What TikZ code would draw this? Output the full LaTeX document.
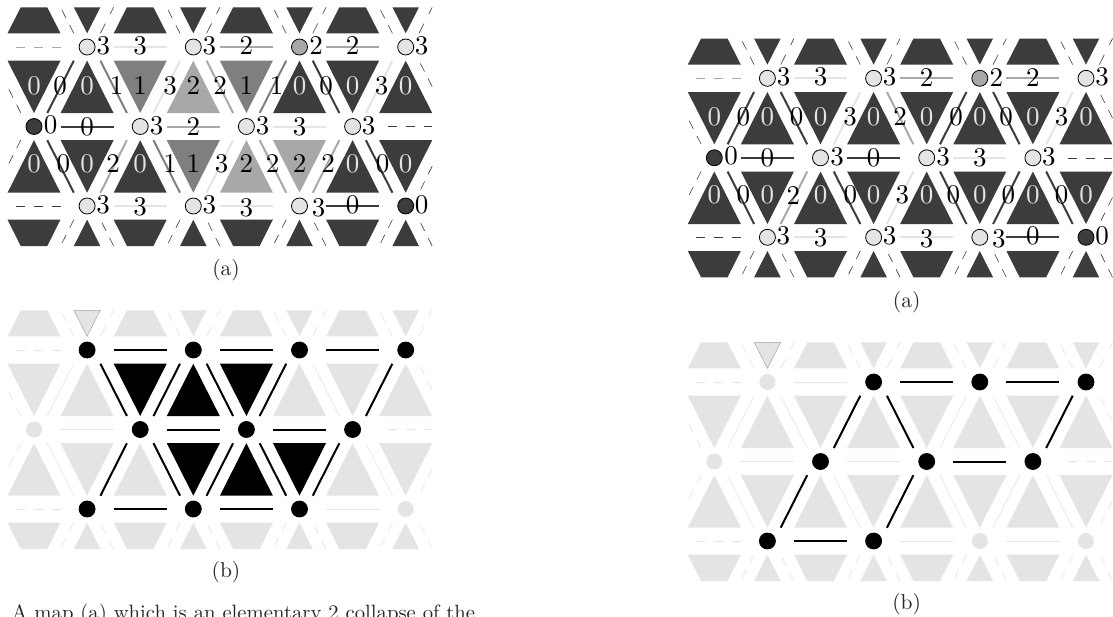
\documentclass[tikz,border=0pt]{standalone}
\definecolor{c0}{HTML}{3C3C3C}
\definecolor{c1}{HTML}{7F7F7F}
\definecolor{c2}{HTML}{A8A8A8}
\definecolor{c3}{HTML}{E4E4E4}
\definecolor{cL}{HTML}{E4E4E4}
\definecolor{cB}{HTML}{000000}
\tikzset{
  tri0/.style={fill=c0},tri1/.style={fill=c1},tri2/.style={fill=c2},tri3/.style={fill=c3},
  triL/.style={fill=cL},triB/.style={fill=cB},
  hilite/.style={fill=cL,draw=c2,line width=.5pt},
  edge0/.style={draw=c0,line width=2pt},edge1/.style={draw=c1,line width=2pt},
  edge2/.style={draw=c2,line width=2pt},edge3/.style={draw=c3,line width=2pt},
  edgeB/.style={draw=cB,line width=2pt},edgeL/.style={draw=cL,line width=.6pt},
  vtx/.style={circle,minimum size=16pt,inner sep=0pt,outer sep=0pt},
  vert0/.style={vtx,fill=c0,draw=black,line width=.8pt},
  vert2/.style={vtx,fill=c2,draw=black,line width=.8pt},
  vert3/.style={vtx,fill=c3,draw=black,line width=.8pt},
  vertB/.style={vtx,fill=black,draw=black,line width=.8pt},
  vertL/.style={vtx,fill=cL},
  lab/.style={inner sep=0pt,outer sep=0pt,font=\fontsize{10}{12}\selectfont,scale=2.7,text=black},
  lab0/.style={lab,text=c3},lab1/.style={lab},lab2/.style={lab},lab3/.style={lab},
  stub0/.style={draw=c0,line width=.6pt},stubL/.style={draw=cL,line width=.7pt},
  rowdash0/.style={draw=c0,line width=.6pt,dash pattern=on 9pt off 9pt},
  rowdash2/.style={draw=c2,line width=1pt,dash pattern=on 9pt off 9pt},
  rowdashL/.style={draw=cL,line width=1pt,dash pattern=on 9pt off 9pt},
  captext/.style={inner sep=0pt,outer sep=0pt,font=\fontsize{10}{12}\selectfont,scale=2.15,text=black!85},
  bodytext/.style={inner sep=0pt,outer sep=0pt,font=\fontsize{10}{12}\selectfont,scale=2.07,text=black!85},
}
\newif\iflabels
\newcommand\drawpanel[3]{%
 \begin{scope}[shift={(#2,#3)},name prefix=#1-]
  % clipped rows at top and bottom, with their dashed stubs
  \foreach \cc in {0,...,7}{
    \pgfmathsetmacro\X{34+53.1*\cc}
    \ifodd\cc
      \path[tri\Outer] (\X-13.25,7.3) -- (\X+13.25,7.3) -- (\X,33.3) -- cycle;
      \path[tri\Outer] (\X,219.7) -- (\X+13.25,246) -- (\X-13.25,246) -- cycle;
      \coordinate (ta\cc) at (\X+13.3,33.3);
      \coordinate (tb\cc) at (\X+26.5,7.3);
      \coordinate (ba\cc) at (\X+26.5,246);
      \coordinate (bb\cc) at (\X+13.3,219.7);
      \draw[stub\Outer,dash pattern=on 11pt off 11pt] (ta\cc) -- (tb\cc);
    \else
      \path[tri\Outer] (\X-13.25,7.3) -- (\X+13.25,7.3) -- (\X+26.5,33.3) -- (\X-26.5,33.3) -- cycle;
      \path[tri\Outer] (\X-26.5,219.7) -- (\X+26.5,219.7) -- (\X+13.25,246) -- (\X-13.25,246) -- cycle;
      \coordinate (ta\cc) at (\X+39.8,33.3);
      \coordinate (tb\cc) at (\X+26.5,7.3);
      \coordinate (ba\cc) at (\X+39.8,219.7);
      \coordinate (bb\cc) at (\X+26.5,246);
      \draw[stub\Outer,dash pattern=on 9pt off 8pt] (ta\cc) -- (tb\cc);
    \fi
    \draw[stub\Outer,dash pattern=on 9pt off 8pt] (ba\cc) -- (bb\cc);
  }
  % side stubs
  \coordinate (s1a) at (20.7,112.7); \coordinate (s1b) at (7.5,86.7);
  \coordinate (s2a) at (20.7,140.2); \coordinate (s2b) at (7.5,166.2);
  \coordinate (s3a) at (432.2,86.7); \coordinate (s3b) at (419,60.7);
  \coordinate (s4a) at (432.2,166.2); \coordinate (s4b) at (419,192.7);
  \foreach \n in {1,2,3,4}{\draw[stub\Outer,dash pattern=on 9pt off 8pt] (s\n a) -- (s\n b);}
  % row end dashes
  \coordinate (d1a) at (16,47); \coordinate (d1b) at (61,47);
  \coordinate (d2a) at (387.7,126.5); \coordinate (d2b) at (432,126.5);
  \coordinate (d3a) at (16,206); \coordinate (d3b) at (61,206);
  \draw[rowdash\RowTop] (d1a) -- (d1b);
  \draw[rowdash\RowRest] (d2a) -- (d2b);
  \draw[rowdash\RowRest] (d3a) -- (d3b);
  % band triangles
  \foreach \v [count=\cc from 0] in \TriOne{
    \pgfmathsetmacro\X{34+53.1*\cc}
    \ifodd\cc
      \path[tri\v] (\X,60.7) -- (\X+26.5,113) -- (\X-26.5,113) -- cycle;
    \else
      \path[tri\v] (\X-26.5,60.7) -- (\X+26.5,60.7) -- (\X,113) -- cycle;
    \fi
    \iflabels\node[lab\v] (tl1\cc) at (\X,85.7) {\v};\fi
  }
  \foreach \v [count=\cc from 0] in \TriTwo{
    \pgfmathsetmacro\X{34+53.1*\cc}
    \ifodd\cc
      \path[tri\v] (\X-26.5,140.2) -- (\X+26.5,140.2) -- (\X,192.7) -- cycle;
    \else
      \path[tri\v] (\X,140.2) -- (\X+26.5,192.7) -- (\X-26.5,192.7) -- cycle;
    \fi
    \iflabels\node[lab\v] (tl2\cc) at (\X,164) {\v};\fi
  }
  % diagonal connectors
  \foreach \k/\col/\lx in \DiagOne{
    \pgfmathsetmacro\X{34+53.1*\k}
    \ifodd\k
      \coordinate (e1a\k) at (\X+13.3,60.7); \coordinate (e1b\k) at (\X+39.8,113);
    \else
      \coordinate (e1a\k) at (\X+39.8,60.7); \coordinate (e1b\k) at (\X+13.3,113);
    \fi
    \draw[edge\col] (e1a\k) -- (e1b\k);
  }
  \foreach \k/\col/\lx in \DiagTwo{
    \pgfmathsetmacro\X{34+53.1*\k}
    \ifodd\k
      \coordinate (e2a\k) at (\X+39.8,140.2); \coordinate (e2b\k) at (\X+13.3,192.7);
    \else
      \coordinate (e2a\k) at (\X+13.3,140.2); \coordinate (e2b\k) at (\X+39.8,192.7);
    \fi
    \draw[edge\col] (e2a\k) -- (e2b\k);
  }
  % horizontal connectors
  \foreach \rw/\cc/\col/\ly in \Hdata{
    \pgfmathsetmacro\X{34+53.1*\cc}
    \pgfmathsetmacro\Y{47+79.5*(\rw-1)}
    \coordinate (ha\rw\cc) at (\X-26.5,\Y); \coordinate (hb\rw\cc) at (\X+26.5,\Y);
    \draw[edge\col] (ha\rw\cc) -- (hb\rw\cc);
  }
  % vertices
  \foreach \rw/\cc/\v/\lx/\ly in \Vdata{
    \pgfmathsetmacro\X{34+53.1*\cc}
    \pgfmathsetmacro\Y{47+79.5*(\rw-1)}
    \node[vert\v] (v\rw\cc) at (\X,\Y) {};
  }
  % labels on top
  \iflabels
    \foreach \k/\col/\lx in \DiagOne{\node[lab] (dl1\k) at (\lx,85.7) {\col};}
    \foreach \k/\col/\lx in \DiagTwo{\node[lab] (dl2\k) at (\lx,164) {\col};}
    \foreach \rw/\cc/\col/\ly in \Hdata{
      \pgfmathsetmacro\X{34+53.1*\cc}
      \pgfmathsetmacro\Y{47+79.5*(\rw-1)+\ly}
      \node[lab] (hl\rw\cc) at (\X,\Y) {\col};
    }
    \foreach \rw/\cc/\v/\lx/\ly in \Vdata{
      \pgfmathsetmacro\X{34+53.1*\cc+\lx}
      \pgfmathsetmacro\Y{47+79.5*(\rw-1)+\ly}
      \node[lab] (vl\rw\cc) at (\X,\Y) {\v};
    }
  \else
    \path[hilite] (87.1-13.25,7.3) -- (87.1+13.25,7.3) -- (87.1,33.3) -- cycle;
  \fi
 \end{scope}%
}
\begin{document}
\begin{tikzpicture}[x=1pt,y=-1pt]
\useasboundingbox (0,0) rectangle (1113,616);
\clip (0,0) rectangle (1113,616);
% ---------- left (a)
\labelstrue
\def\Outer{0}\def\RowTop{2}\def\RowRest{0}
\def\TriOne{0,0,1,2,1,0,0,0}
\def\TriTwo{0,0,0,1,2,2,0,0}
\def\DiagOne{0/0/60,1/1/116.7,2/3/170,3/2/220,4/1/276.7,5/0/326,6/3/381.7}
\def\DiagTwo{0/0/63.3,1/2/113,2/1/170,3/3/221.7,4/2/272.7,5/2/328,6/0/382.7}
\def\Hdata{1/2/3/-1,1/4/2/-1,1/6/2/-1,2/1/0/0,2/3/2/0,2/5/3/0,3/2/3/.5,3/4/3/2,3/6/0/-1}
\def\Vdata{1/1/3/16.2/-1,1/3/3/16/-1,1/5/2/16.5/-1,1/7/3/16/-1,2/0/0/16.7/-1.5,2/2/3/16.5/-.5,2/4/3/16.3/-.5,2/6/3/16/-.5,3/1/3/16/-1,3/3/3/16/-1,3/5/3/19/1.5,3/7/0/16/-1.5}
\drawpanel{LA}{0}{0}
% ---------- right (a)
\def\TriOne{0,0,0,0,0,0,0,0}
\def\TriTwo{0,0,0,0,0,0,0,0}
\def\DiagOne{0/0/63,1/0/116.4,2/3/169.7,3/2/219.7,4/0/275.7,5/0/325.7,6/3/381.4}
\def\DiagTwo{0/0/63,1/2/113,2/0/170,3/3/222,4/0/273,5/0/328,6/0/381.4}
\def\Hdata{1/2/3/-1,1/4/2/-1,1/6/2/-1,2/1/0/0,2/3/0/0,2/5/3/0,3/2/3/.5,3/4/3/2,3/6/0/-1}
\drawpanel{RA}{680.3}{31.3}
% ---------- left (b)
\labelsfalse
\def\Outer{L}\def\RowTop{L}\def\RowRest{L}
\def\TriOne{L,L,B,B,B,L,L,L}
\def\TriTwo{L,L,L,B,B,B,L,L}
\def\DiagOne{0/L/0,1/B/0,2/B/0,3/B/0,4/B/0,5/L/0,6/B/0}
\def\DiagTwo{0/L/0,1/B/0,2/B/0,3/B/0,4/B/0,5/B/0,6/L/0}
\def\Hdata{1/2/B/0,1/4/B/0,1/6/B/0,2/1/L/0,2/3/B/0,2/5/B/0,3/2/B/0,3/4/B/0,3/6/L/0}
\def\Vdata{1/1/B/0/0,1/3/B/0/0,1/5/B/0/0,1/7/B/0/0,2/0/L/0/0,2/2/B/0/0,2/4/B/0/0,2/6/B/0/0,3/1/B/0/0,3/3/B/0/0,3/5/B/0/0,3/7/L/0/0}
\drawpanel{LB}{0}{303}
% ---------- right (b)
\def\TriOne{L,L,L,L,L,L,L,L}
\def\TriTwo{L,L,L,L,L,L,L,L}
\def\DiagOne{0/L/0,1/L/0,2/B/0,3/B/0,4/L/0,5/L/0,6/B/0}
\def\DiagTwo{0/L/0,1/B/0,2/L/0,3/B/0,4/L/0,5/L/0,6/L/0}
\def\Hdata{1/2/L/0,1/4/B/0,1/6/B/0,2/1/L/0,2/3/L/0,2/5/B/0,3/2/B/0,3/4/B/0,3/6/L/0}
\def\Hdata{1/2/L/0,1/4/B/0,1/6/B/0,2/1/L/0,2/3/L/0,2/5/B/0,3/2/B/0,3/4/L/0,3/6/L/0}
\def\Vdata{1/1/L/0/0,1/3/B/0/0,1/5/B/0/0,1/7/B/0/0,2/0/L/0/0,2/2/B/0/0,2/4/B/0/0,2/6/B/0/0,3/1/B/0/0,3/3/B/0/0,3/5/L/0/0,3/7/L/0/0}
\drawpanel{RB}{680.3}{335}
% ---------- captions
\node[captext] (capLA) at (226,270) {(a)};
\node[captext] (capLB) at (226,571.7) {(b)};
\node[captext] (capRA) at (906.7,301.7) {(a)};
\node[captext] (capRB) at (906.7,604) {(b)};
\node[bodytext,anchor=base west] (body) at (12,619.5) {A map (a) which is an elementary 2 collapse of the};
\end{tikzpicture}
\end{document}
